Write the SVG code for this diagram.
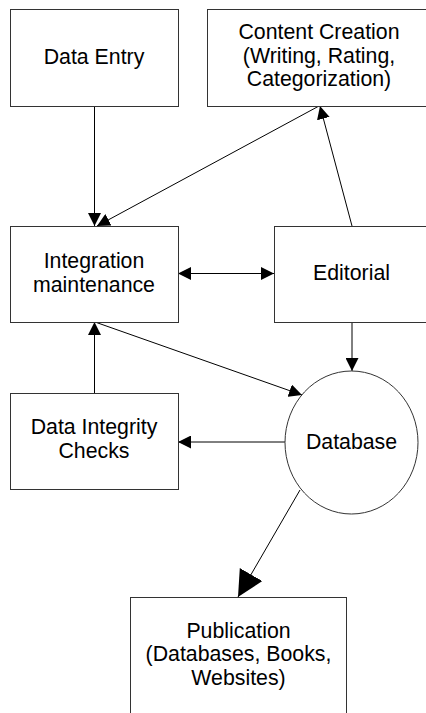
<svg xmlns="http://www.w3.org/2000/svg" width="426" height="713" viewBox="0 0 426 713">
  <style>
    .box { fill: #fff; stroke: #333; stroke-width: 1; }
    .lbl { font-family: "Liberation Sans", Arial, sans-serif; font-size: 21.3px; fill: #000; text-anchor: middle; }
    .edge { fill: none; stroke: #000; stroke-width: 1; }
  </style>
  <defs>
    <marker id="arrow" markerUnits="userSpaceOnUse" markerWidth="13" markerHeight="13" viewBox="0 0 12 12" refX="12" refY="6" orient="auto">
      <path d="M0,0 L12,6 L0,12 z" fill="#000"/>
    </marker>
    <marker id="arrowStart" markerUnits="userSpaceOnUse" markerWidth="13" markerHeight="13" viewBox="0 0 12 12" refX="0" refY="6" orient="auto">
      <path d="M12,0 L0,6 L12,12 z" fill="#000"/>
    </marker>
    <marker id="arrowBig" markerUnits="userSpaceOnUse" markerWidth="26" markerHeight="26" viewBox="0 0 25 25" refX="25" refY="12.5" orient="auto">
      <path d="M0,0 L25,12.5 L0,25 z" fill="#000"/>
    </marker>
  </defs>

  <rect width="426" height="713" fill="#fff"/>

  <g id="connectors">
    <line class="edge" x1="94.5" y1="106" x2="94.5" y2="226" marker-end="url(#arrow)"/>
    <line class="edge" x1="319" y1="106" x2="97" y2="226" marker-end="url(#arrow)"/>
    <line class="edge" x1="352" y1="226" x2="320" y2="106" marker-end="url(#arrow)"/>
    <line class="edge" x1="178" y1="273.5" x2="274" y2="273.5" marker-start="url(#arrowStart)" marker-end="url(#arrow)"/>
    <line class="edge" x1="352" y1="322" x2="352" y2="371" marker-end="url(#arrow)"/>
    <line class="edge" x1="95" y1="322" x2="302" y2="395" marker-end="url(#arrow)"/>
    <line class="edge" x1="94.5" y1="393" x2="94.5" y2="322" marker-end="url(#arrow)"/>
    <line class="edge" x1="285" y1="442" x2="178" y2="442" marker-end="url(#arrow)"/>
    <line class="edge" x1="300" y1="490" x2="238" y2="597" marker-end="url(#arrowBig)"/>
  </g>

  <g id="data-entry">
    <rect class="box" x="10.5" y="9.5" width="168" height="97"/>
    <text class="lbl" x="94" y="64">Data Entry</text>
  </g>

  <g id="content-creation">
    <rect class="box" x="207.5" y="9.5" width="230" height="97"/>
    <text class="lbl" x="319" y="39.3">Content Creation</text>
    <text class="lbl" x="319" y="62.8">(Writing, Rating,</text>
    <text class="lbl" x="319" y="86.3">Categorization)</text>
  </g>

  <g id="integration-maintenance">
    <rect class="box" x="10.5" y="226.5" width="168" height="96"/>
    <text class="lbl" x="94" y="268.3">Integration</text>
    <text class="lbl" x="94" y="291.8">maintenance</text>
  </g>

  <g id="editorial">
    <rect class="box" x="274.5" y="226.5" width="160" height="96"/>
    <text class="lbl" x="351.5" y="280">Editorial</text>
  </g>

  <g id="data-integrity-checks">
    <rect class="box" x="10.5" y="393.5" width="168" height="96"/>
    <text class="lbl" x="94" y="434">Data Integrity</text>
    <text class="lbl" x="94" y="457.5">Checks</text>
  </g>

  <g id="database">
    <ellipse class="box" cx="351.5" cy="442.5" rx="66.5" ry="71.5"/>
    <text class="lbl" x="351.5" y="449">Database</text>
  </g>

  <g id="publication">
    <rect class="box" x="130.5" y="597.5" width="216" height="130"/>
    <text class="lbl" x="238.5" y="637.7">Publication</text>
    <text class="lbl" x="238.5" y="661.2">(Databases, Books,</text>
    <text class="lbl" x="238.5" y="684.7">Websites)</text>
  </g>
</svg>
